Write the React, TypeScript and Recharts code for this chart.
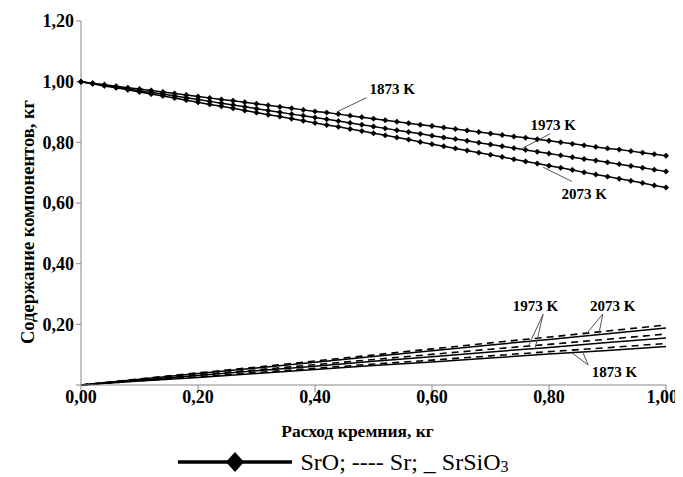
import React from 'react';
import { LineChart, Line, XAxis, YAxis, ReferenceLine, ReferenceDot, Legend } from 'recharts';

// расход кремния, кг (шаг маркеров SrO)
const siSteps = [
  0, 0.02, 0.04, 0.06, 0.08, 0.1, 0.12, 0.14, 0.16, 0.18, 0.2, 0.22, 0.24, 0.26, 0.28, 0.3, 0.32,
  0.34, 0.36, 0.38, 0.4, 0.42, 0.44, 0.46, 0.48, 0.5, 0.52, 0.54, 0.56, 0.58, 0.6, 0.62, 0.64,
  0.66, 0.68, 0.7, 0.72, 0.74, 0.76, 0.78, 0.8, 0.82, 0.84, 0.86, 0.88, 0.9, 0.92, 0.94, 0.96,
  0.98, 1,
];

const srO1873 = [
  1.0, 0.995, 0.99, 0.985, 0.98, 0.976, 0.971, 0.966, 0.961, 0.956, 0.951, 0.946, 0.941, 0.937,
  0.932, 0.927, 0.922, 0.917, 0.912, 0.907, 0.902, 0.898, 0.893, 0.888, 0.883, 0.878, 0.873,
  0.868, 0.863, 0.858, 0.854, 0.849, 0.844, 0.839, 0.834, 0.829, 0.824, 0.819, 0.815, 0.81,
  0.805, 0.8, 0.795, 0.79, 0.785, 0.78, 0.776, 0.771, 0.766, 0.761, 0.756,
];
const srO1973 = [
  1.0, 0.994, 0.988, 0.982, 0.976, 0.97, 0.964, 0.959, 0.953, 0.947, 0.941, 0.935, 0.929, 0.923,
  0.917, 0.911, 0.905, 0.899, 0.893, 0.888, 0.882, 0.876, 0.87, 0.864, 0.858, 0.852, 0.846,
  0.84, 0.834, 0.828, 0.822, 0.816, 0.811, 0.805, 0.799, 0.793, 0.787, 0.781, 0.775, 0.769,
  0.763, 0.757, 0.751, 0.745, 0.74, 0.734, 0.728, 0.722, 0.716, 0.71, 0.704,
];
const srO2073 = [
  1.0, 0.993, 0.986, 0.98, 0.973, 0.966, 0.959, 0.953, 0.946, 0.939, 0.932, 0.925, 0.919, 0.912,
  0.905, 0.898, 0.891, 0.885, 0.878, 0.871, 0.864, 0.857, 0.851, 0.844, 0.837, 0.83, 0.823,
  0.816, 0.809, 0.801, 0.794, 0.787, 0.78, 0.773, 0.766, 0.759, 0.752, 0.744, 0.737, 0.73,
  0.723, 0.716, 0.709, 0.701, 0.694, 0.687, 0.68, 0.673, 0.666, 0.658, 0.651,
];

// нижние кривые
const lowSteps = [0, 0.1, 0.2, 0.3, 0.4, 0.5, 0.6, 0.7, 0.8, 0.9, 1];
const sr2073 = [0, 0.02, 0.04, 0.059, 0.079, 0.099, 0.119, 0.139, 0.158, 0.178, 0.198];
const srSiO3_2073 = [0, 0.019, 0.038, 0.056, 0.075, 0.094, 0.113, 0.132, 0.15, 0.169, 0.188];
const sr1973 = [0, 0.017, 0.034, 0.05, 0.067, 0.084, 0.101, 0.118, 0.134, 0.151, 0.168];
const srSiO3_1973 = [0, 0.016, 0.031, 0.047, 0.062, 0.078, 0.093, 0.109, 0.124, 0.14, 0.155];
const sr1873 = [0, 0.014, 0.027, 0.041, 0.055, 0.069, 0.082, 0.096, 0.11, 0.123, 0.137];
const srSiO3_1873 = [0, 0.013, 0.025, 0.038, 0.051, 0.064, 0.076, 0.089, 0.102, 0.114, 0.127];

const xTicks = [0, 0.2, 0.4, 0.6, 0.8, 1];
const yTicks = [0, 0.2, 0.4, 0.6, 0.8, 1, 1.2];

const toPoints = (xs: number[], ys: number[]) => xs.map((x, i) => ({ x, y: ys[i] }));

const fmt = (v: number) => v.toFixed(2).replace('.', ',');

const serif = '"Liberation Serif", "Times New Roman", serif';

const Diamond = (props: any) => {
  const { cx, cy } = props;
  if (cx == null || cy == null) return null;
  const s = 2.7;
  return (
    <polygon
      points={`${cx},${cy - s} ${cx + s},${cy} ${cx},${cy + s} ${cx - s},${cy}`}
      fill="#000"
      stroke="#000"
      strokeWidth={0.6}
    />
  );
};

// подписи температур: [x, y] центра текста
const labels = [
  { t: '1873 K', x: 0.532, y: 0.976 },
  { t: '1973 K', x: 0.807, y: 0.857 },
  { t: '2073 K', x: 0.86, y: 0.63 },
  { t: '2073 K', x: 0.909, y: 0.26 },
  { t: '1973 K', x: 0.777, y: 0.26 },
  { t: '1873 K', x: 0.912, y: 0.045 },
];

const leaders = [
  [0.488, 0.947, 0.437, 0.9],
  [0.802, 0.828, 0.753, 0.779],
  [0.839, 0.671, 0.79, 0.718],
  [0.892, 0.234, 0.865, 0.171],
  [0.892, 0.234, 0.885, 0.166],
  [0.79, 0.234, 0.764, 0.125],
  [0.79, 0.234, 0.776, 0.118],
  [0.867, 0.066, 0.839, 0.106],
  [0.867, 0.066, 0.858, 0.107],
];

const LegendBox = () => (
  <div style={{ display: 'flex', alignItems: 'center', justifyContent: 'center', height: 26 }}>
    <svg width={114} height={24} style={{ marginRight: 8 }}>
      <line x1={0} y1={12} x2={114} y2={12} stroke="#000" strokeWidth={3.5} />
      <polygon points="57,2 66,12 57,22 48,12" fill="#000" />
    </svg>
    <span style={{ fontFamily: serif, fontSize: 24, color: '#000', lineHeight: '26px' }}>
      SrO; ---- Sr; _ SrSiO<sub style={{ fontSize: 16, verticalAlign: -2, lineHeight: 0 }}>3</sub>
    </span>
  </div>
);

const YTitle = (props: any) => {
  const vb = props.viewBox || {};
  const cx = 20;
  const cy = vb.y + vb.height / 2 + 19;
  return (
    <text
      x={cx}
      y={cy}
      transform={`rotate(-90 ${cx} ${cy})`}
      textAnchor="middle"
      dominantBaseline="central"
      fontFamily={serif}
      fontWeight="bold"
      fontSize={18.5}
      fill="#000"
    >
      Содержание компонентов, кг
    </text>
  );
};

export default function App() {
  return (
    <LineChart width={670} height={469} margin={{ top: 13, right: 12, left: 13, bottom: 0 }}>
      <XAxis
        type="number"
        dataKey="x"
        domain={[0, 1]}
        ticks={xTicks}
        tickFormatter={fmt}
        stroke="#888"
        tickSize={7}
        tickMargin={-2}
        tick={{ fill: '#000', fontFamily: serif, fontWeight: 'bold', fontSize: 18 }}
        height={66}
        label={{
          value: 'Расход кремния, кг',
          position: 'insideBottom',
          offset: 14,
          dx: -16,
          fill: '#000',
          fontFamily: serif,
          fontWeight: 'bold',
          fontSize: 17.5,
        }}
      />
      <YAxis
        type="number"
        dataKey="y"
        domain={[0, 1.2]}
        ticks={yTicks}
        tickFormatter={(v: number) => (v === 0 ? '' : fmt(v))}
        stroke="#888"
        tickSize={5}
        tick={{ fill: '#000', fontFamily: serif, fontWeight: 'bold', fontSize: 18 }}
        width={60}
        label={<YTitle />}
      />
      <Legend verticalAlign="bottom" content={() => <LegendBox />} wrapperStyle={{ bottom: 2 }} />

      <Line data={toPoints(siSteps, srO1873)} dataKey="y" stroke="#000" strokeWidth={1.5} dot={<Diamond />} isAnimationActive={false} legendType="none" />
      <Line data={toPoints(siSteps, srO1973)} dataKey="y" stroke="#000" strokeWidth={1.5} dot={<Diamond />} isAnimationActive={false} legendType="none" />
      <Line data={toPoints(siSteps, srO2073)} dataKey="y" stroke="#000" strokeWidth={1.5} dot={<Diamond />} isAnimationActive={false} legendType="none" />

      <Line data={toPoints(lowSteps, sr2073)} dataKey="y" stroke="#000" strokeWidth={1.6} strokeDasharray="7 5" dot={false} isAnimationActive={false} legendType="none" />
      <Line data={toPoints(lowSteps, srSiO3_2073)} dataKey="y" stroke="#000" strokeWidth={1.5} dot={false} isAnimationActive={false} legendType="none" />
      <Line data={toPoints(lowSteps, sr1973)} dataKey="y" stroke="#000" strokeWidth={1.6} strokeDasharray="7 5" dot={false} isAnimationActive={false} legendType="none" />
      <Line data={toPoints(lowSteps, srSiO3_1973)} dataKey="y" stroke="#000" strokeWidth={1.5} dot={false} isAnimationActive={false} legendType="none" />
      <Line data={toPoints(lowSteps, sr1873)} dataKey="y" stroke="#000" strokeWidth={1.6} strokeDasharray="7 5" dot={false} isAnimationActive={false} legendType="none" />
      <Line data={toPoints(lowSteps, srSiO3_1873)} dataKey="y" stroke="#000" strokeWidth={1.5} dot={false} isAnimationActive={false} legendType="none" />

      {leaders.map((l, i) => (
        <ReferenceLine
          key={'ld' + i}
          segment={[{ x: l[0], y: l[1] }, { x: l[2], y: l[3] }]}
          stroke="#555"
          strokeWidth={1}
        />
      ))}
      {labels.map((l, i) => (
        <ReferenceDot
          key={'lb' + i}
          x={l.x}
          y={l.y}
          r={0}
          fill="none"
          stroke="none"
          label={{
            value: l.t,
            position: 'center',
            fill: '#000',
            fontFamily: serif,
            fontWeight: 'bold',
            fontSize: 15,
          }}
        />
      ))}
    </LineChart>
  );
}
